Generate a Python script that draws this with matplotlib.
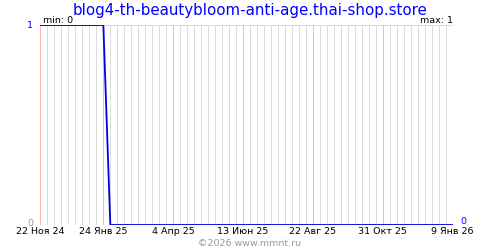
import numpy as np
import matplotlib
matplotlib.use("Agg")
import matplotlib.pyplot as plt
import matplotlib.dates as mdates
import datetime as dt

title = "blog4-th-beautybloom-anti-age.thai-shop.store"
start = dt.date(2024, 11, 22)
# weekly points, 60 weeks
values = [1] * 10 + [0] * 50
tick_labels = ["22 Ноя 24", "24 Янв 25", "4 Апр 25", "13 Июн 25",
               "22 Авг 25", "31 Окт 25", "9 Янв 26"]
tick_days = [0, 63, 133, 203, 273, 343, 413]

days = np.arange(len(values)) * 7
dates = [mdates.date2num(start + dt.timedelta(days=int(d))) for d in days]
x0 = mdates.date2num(start)

fig = plt.figure(figsize=(5, 2.5), dpi=100)
ax = fig.add_axes([40 / 500, 25 / 250, 413 / 500, 200 / 250])

px = 72 / 100  # one pixel in points
# weekly grid, red lines at the labelled dates
for d in range(0, 414, 7):
    if d in tick_days:
        continue
    ax.axvline(x0 + d, color="#dcdcdc", lw=px, zorder=1)
for d in tick_days:
    ax.axvline(x0 + d, color="#ffb4b4", lw=px, zorder=2)
ax.axhline(1, color="#dcdcdc", lw=px, zorder=1)
ax.axhline(0, color="#dcdcdc", lw=px, zorder=1)

ax.plot(dates, values, color="#0000e0", lw=1.3, zorder=3)

ax.set_xlim(x0 - 0.5, x0 + 413.5)
ax.set_ylim(0, 1)
ax.set_xticks([x0 + d for d in tick_days])
ax.set_xticklabels(tick_labels, fontsize=6.8)
ax.set_yticks([])
ax.tick_params(axis="x", length=0, pad=1.5)
for s in ax.spines.values():
    s.set_visible(False)

fig.text(0.5, 0.958, title, color="#0000ff", fontsize=10.8, ha="center", va="center")
ax.text(0.0, 1.0, " min: 0", transform=ax.transAxes, fontsize=6.8, va="bottom", ha="left")
ax.text(1.0, 1.0, "max: 1", transform=ax.transAxes, fontsize=6.8, va="bottom", ha="right")
fig.text(30 / 500, 1 - 25 / 250, "1", color="#0000ff", fontsize=6.8, ha="center", va="center")
fig.text(30 / 500, 1 - 224 / 250, "0", color="#999999", fontsize=6.8, ha="center", va="center")
fig.text(463 / 500, 1 - 222 / 250, "0", color="#0000ff", fontsize=6.8, ha="center", va="center")
fig.text(0.5, 1 - 244 / 250, "©2026 www.mmnt.ru", color="#999999", fontsize=6.8, ha="center", va="center")

fig.savefig("out.png", dpi=100)
